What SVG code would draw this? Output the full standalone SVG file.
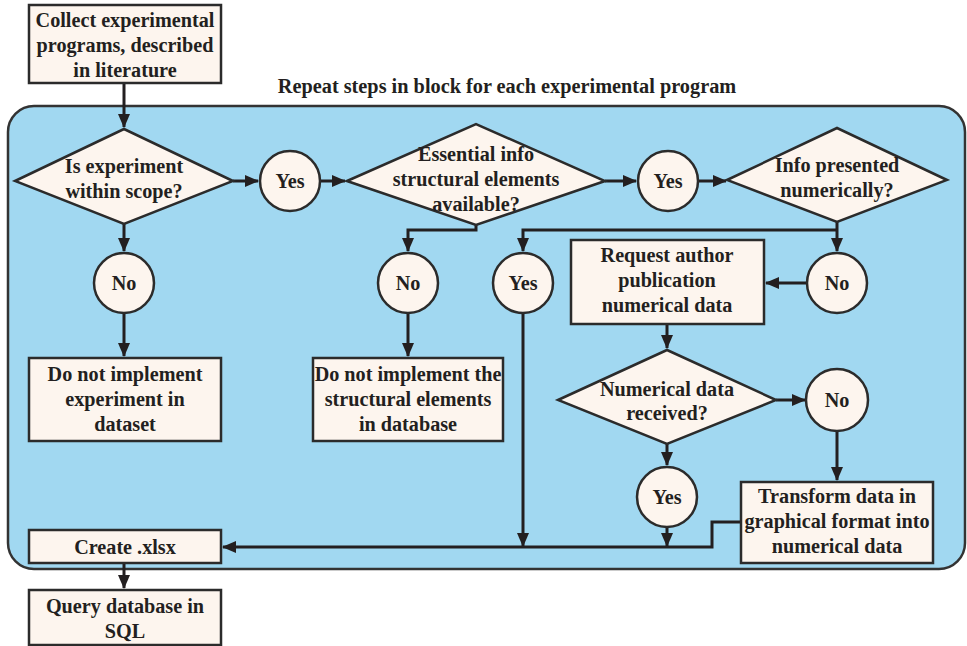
<svg xmlns="http://www.w3.org/2000/svg" width="967" height="646" viewBox="0 0 967 646">
<defs>
<marker id="ah" markerUnits="userSpaceOnUse" markerWidth="14" markerHeight="12" refX="13" refY="6" orient="auto">
<path d="M0,0 L14,6 L0,12 Z" fill="#231f20"/>
</marker>
</defs>
<style>
.box{fill:#fdf5ee;stroke:#2b2b2b;stroke-width:2.5}
.t{font-family:"Liberation Serif","DejaVu Serif",serif;font-weight:bold;font-size:20.2px;fill:#231f20;text-anchor:middle}
.c{fill:none;stroke:#231f20;stroke-width:3}
</style>
<rect width="967" height="646" fill="#fff"/>
<rect id="block" x="8" y="106" width="957" height="463" rx="26" fill="#a1d8f1" stroke="#333" stroke-width="2.5"/>
<text class="t" x="507" y="93" style="font-size:20.3px">Repeat steps in block for each experimental program</text>

<g id="connectors">
<path class="c" d="M124,83 V127" marker-end="url(#ah)"/>
<path class="c" d="M233,181 H258" marker-end="url(#ah)"/>
<path class="c" d="M320,181 H345" marker-end="url(#ah)"/>
<path class="c" d="M605,181 H636" marker-end="url(#ah)"/>
<path class="c" d="M698,181 H726" marker-end="url(#ah)"/>
<path class="c" d="M124,224 V251" marker-end="url(#ah)"/>
<path class="c" d="M124,313 V356" marker-end="url(#ah)"/>
<path class="c" d="M476,225 V230 H408 V251" marker-end="url(#ah)"/>
<path class="c" d="M408,313 V356" marker-end="url(#ah)"/>
<path class="c" d="M837,222 V251" marker-end="url(#ah)"/>
<path class="c" d="M837,230 H523 V251" marker-end="url(#ah)"/>
<path class="c" d="M523,313 V546" marker-end="url(#ah)"/>
<path class="c" d="M807,283 H766" marker-end="url(#ah)"/>
<path class="c" d="M667,324 V348" marker-end="url(#ah)"/>
<path class="c" d="M776,400 H805" marker-end="url(#ah)"/>
<path class="c" d="M837,431 V480" marker-end="url(#ah)"/>
<path class="c" d="M667,444 V465" marker-end="url(#ah)"/>
<path class="c" d="M667,527 V546" marker-end="url(#ah)"/>
<path class="c" d="M741,522 H712 V547 H223" marker-end="url(#ah)"/>
<path class="c" d="M124,563 V588" marker-end="url(#ah)"/>
</g>

<g id="collect">
<rect class="box" x="29" y="5" width="192" height="78"/>
<text class="t" x="125" y="27">Collect experimental</text>
<text class="t" x="125" y="52">programs, described</text>
<text class="t" x="125" y="77">in literature</text>
</g>

<g id="scope">
<polygon class="box" points="15,181 124,129 233,181 124,224"/>
<text class="t" x="124" y="173">Is experiment</text>
<text class="t" x="124" y="198">within scope?</text>
</g>

<g id="yes1">
<circle class="box" cx="290" cy="181" r="30"/>
<text class="t" x="290" y="188">Yes</text>
</g>

<g id="essential">
<polygon class="box" points="347,181 476,124 605,181 476,225"/>
<text class="t" x="476" y="161">Essential info</text>
<text class="t" x="476" y="186">structural elements</text>
<text class="t" x="476" y="211">available?</text>
</g>

<g id="yes2">
<circle class="box" cx="668" cy="181" r="30"/>
<text class="t" x="668" y="188">Yes</text>
</g>

<g id="numerically">
<polygon class="box" points="727,180 837,128 947,180 837,222"/>
<text class="t" x="837" y="172">Info presented</text>
<text class="t" x="837" y="197">numerically?</text>
</g>

<g id="no1">
<circle class="box" cx="124" cy="283" r="30"/>
<text class="t" x="124" y="290">No</text>
</g>

<g id="no2">
<circle class="box" cx="408" cy="283" r="30"/>
<text class="t" x="408" y="290">No</text>
</g>

<g id="yes3">
<circle class="box" cx="523" cy="283" r="30"/>
<text class="t" x="523" y="290">Yes</text>
</g>

<g id="no3">
<circle class="box" cx="837" cy="283" r="30"/>
<text class="t" x="837" y="290">No</text>
</g>

<g id="request">
<rect class="box" x="571" y="240" width="193" height="84"/>
<text class="t" x="667" y="262">Request author</text>
<text class="t" x="667" y="287">publication</text>
<text class="t" x="667" y="312">numerical data</text>
</g>

<g id="notimpl1">
<rect class="box" x="29" y="358" width="192" height="83"/>
<text class="t" x="125" y="381">Do not implement</text>
<text class="t" x="125" y="406">experiment in</text>
<text class="t" x="125" y="431">dataset</text>
</g>

<g id="notimpl2">
<rect class="box" x="313" y="358" width="190" height="83"/>
<text class="t" x="408" y="381">Do not implement the</text>
<text class="t" x="408" y="406">structural elements</text>
<text class="t" x="408" y="431">in database</text>
</g>

<g id="received">
<polygon class="box" points="558,400 667,350 776,400 667,444"/>
<text class="t" x="667" y="396">Numerical data</text>
<text class="t" x="667" y="420">received?</text>
</g>

<g id="no4">
<circle class="box" cx="837" cy="400" r="31"/>
<text class="t" x="837" y="407">No</text>
</g>

<g id="yes4">
<circle class="box" cx="667" cy="497" r="30"/>
<text class="t" x="667" y="504">Yes</text>
</g>

<g id="transform">
<rect class="box" x="741" y="482" width="192" height="81"/>
<text class="t" x="837" y="503">Transform data in</text>
<text class="t" x="837" y="528">graphical format into</text>
<text class="t" x="837" y="553">numerical data</text>
</g>

<g id="create">
<rect class="box" x="29" y="530" width="192" height="33"/>
<text class="t" x="125" y="554">Create .xlsx</text>
</g>

<g id="query">
<rect class="box" x="29" y="590" width="192" height="55"/>
<text class="t" x="125" y="613">Query database in</text>
<text class="t" x="125" y="638">SQL</text>
</g>
</svg>
